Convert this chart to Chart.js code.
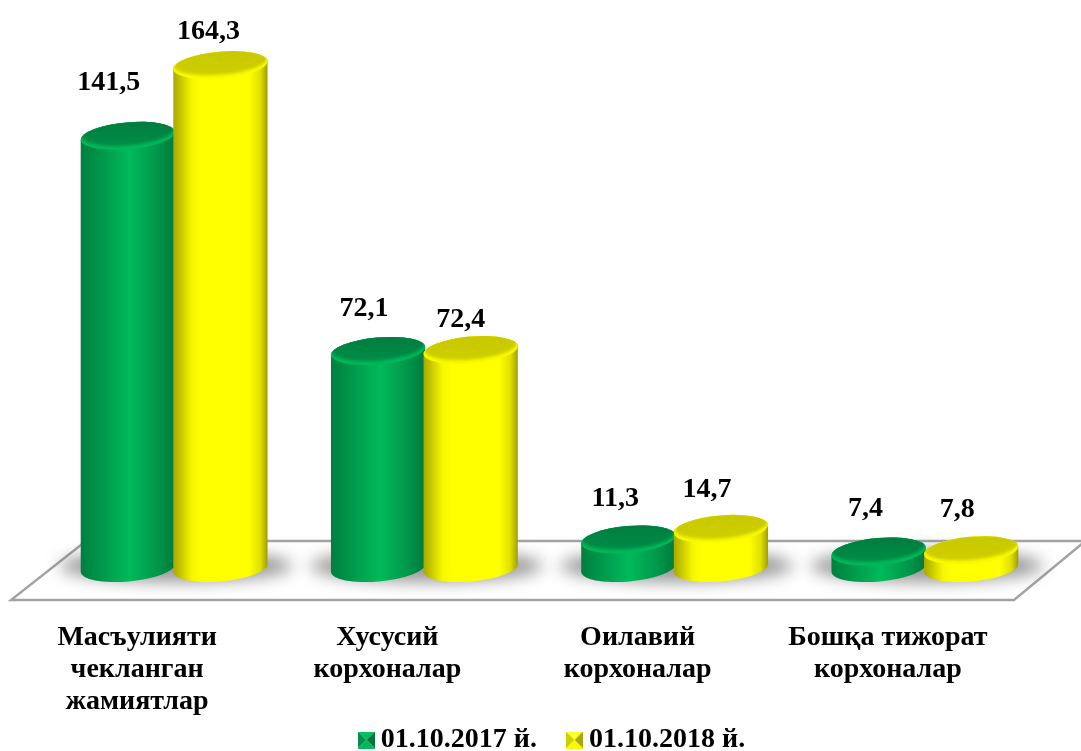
<!DOCTYPE html>
<html>
<head>
<meta charset="utf-8">
<title>Корхоналар</title>
<script src="https://cdn.jsdelivr.net/npm/chart.js@4"></script>
<style>
	html, body { margin: 0; padding: 0; background: #fff; overflow: hidden; }
	canvas { display: block; }
</style>
</head>
<body>
<canvas id="chart" width="1081" height="751"></canvas>
<script>
const categories = [
	["Масъулияти", "чекланган", "жамиятлар"],
	["Хусусий", "корхоналар"],
	["Оилавий", "корхоналар"],
	["Бошқа тижорат", "корхоналар"],
];
const seriesNames = ["01.10.2017 й.", "01.10.2018 й."];
const values2017 = [141.5, 72.1, 11.3, 7.4];
const values2018 = [164.3, 72.4, 14.7, 7.8];

// hand placed value labels, same as in the original [dx, dy] from the top of the bar
const labelShift = [
	[[-19, -53], [-14, -42], [-13, -41], [-13, -43]],
	[[-12, -33], [-10, -30], [-14, -39], [-14, -41]],
];

const fontFamily = "'Liberation Serif', serif";
const tilt = -5 * Math.PI / 180;
const capHeight = 13.5;

const looks = [
	{
		stops: [[0, "#007f40"], [0.2, "#00964a"], [0.52, "#00ba5b"], [0.8, "#00984b"], [1, "#007a3d"]],
		cap: "#008f47", capDark: "#007d3f", rim: "#00b85a", light: "#00c060", dark: "#00773c",
	},
	{
		stops: [[0, "#a8a800"], [0.2, "#f6f600"], [0.3, "#ffff00"], [0.8, "#ffff00"], [0.92, "#e0e000"], [1, "#9c9c00"]],
		cap: "#cfcf00", capDark: "#c8c800", rim: "#fafa00", light: "#ffff30", dark: "#a8a800",
	},
];

// small bevelled square for the legend
function legendIcon(look) {
	const c = document.createElement("canvas");
	c.width = 17;
	c.height = 17;
	const g = c.getContext("2d");
	const part = (color, pts) => {
		g.fillStyle = color;
		g.beginPath();
		pts.forEach((p) => g.lineTo(p[0], p[1]));
		g.closePath();
		g.fill();
	};
	part(look.light, [[0, 0], [17, 0], [8.5, 8.5]]);
	part(look.dark, [[17, 0], [17, 17], [8.5, 8.5]]);
	part(look.cap, [[0, 0], [0, 17], [8.5, 8.5]]);
	part(look.rim, [[0, 17], [17, 17], [8.5, 8.5]]);
	return c;
}

function drawCylinder(ctx, bar, base, look) {
	const rx = bar.width / 2 + 1;
	const bottom = base - 6.5;
	const grad = ctx.createLinearGradient(bar.x - rx, 0, bar.x + rx, 0);
	look.stops.forEach((s) => grad.addColorStop(s[0], s[1]));

	ctx.fillStyle = grad;
	ctx.beginPath();
	ctx.ellipse(bar.x, bottom, rx, capHeight, tilt, 0, Math.PI);
	ctx.ellipse(bar.x, bar.y, rx, capHeight, tilt, Math.PI, Math.PI * 2);
	ctx.closePath();
	ctx.fill();

	// top face with a soft lighter rim on the front edge
	const face = ctx.createLinearGradient(0, bar.y - capHeight, 0, bar.y + capHeight);
	face.addColorStop(0, look.capDark);
	face.addColorStop(1, look.cap);
	ctx.fillStyle = look.rim;
	ctx.beginPath();
	ctx.ellipse(bar.x, bar.y, rx, capHeight, tilt, 0, Math.PI * 2);
	ctx.fill();

	ctx.save();
	ctx.beginPath();
	ctx.ellipse(bar.x, bar.y, rx, capHeight, tilt, 0, Math.PI * 2);
	ctx.clip();
	ctx.filter = "blur(1.5px)";
	ctx.fillStyle = face;
	ctx.beginPath();
	ctx.ellipse(bar.x, bar.y - 3, rx - 1, capHeight - 1, tilt, 0, Math.PI * 2);
	ctx.fill();
	ctx.restore();
}

const cylinderPlugin = {
	id: "cylinders",
	afterLayout(chart) {
		// legend sits right under the labels, closer than its item padding allows
		const legend = chart.legend;
		const height = legend.bottom - legend.top;
		legend.left += 6;
		legend.right += 6;
		legend.top = 689;
		legend.bottom = 689 + height;
	},
	beforeDatasetsDraw(chart) {
		const ctx = chart.ctx;
		const base = chart.scales.y.getPixelForValue(0);
		ctx.save();
		// floor
		ctx.strokeStyle = "#a3a3a3";
		ctx.lineWidth = 2.4;
		ctx.beginPath();
		ctx.moveTo(1083, base - 33.5);
		ctx.lineTo(86, base - 33.5);
		ctx.lineTo(11, base + 25.5);
		ctx.lineTo(1014, base + 25.5);
		ctx.lineTo(1083, base - 31.5);
		ctx.stroke();

		// soft shadow behind the bars
		ctx.filter = "blur(8px)";
		ctx.fillStyle = "rgba(90, 90, 90, 0.62)";
		chart.getDatasetMeta(1).data.forEach((bar, i) => {
			const left = chart.getDatasetMeta(0).data[i];
			ctx.beginPath();
			ctx.ellipse((left.x + bar.x) / 2 + 2, base - 8.5, left.width + 24, 16, 0, 0, Math.PI * 2);
			ctx.fill();
		});
		ctx.restore();
	},
	afterDatasetsDraw(chart) {
		const ctx = chart.ctx;
		const base = chart.scales.y.getPixelForValue(0);
		ctx.save();
		chart.data.datasets.forEach((ds, d) => {
			chart.getDatasetMeta(d).data.forEach((bar) => {
				drawCylinder(ctx, bar, base, looks[d]);
			});
		});
		ctx.fillStyle = "#000";
		ctx.font = "bold 28px " + fontFamily;
		ctx.textAlign = "center";
		ctx.textBaseline = "middle";
		chart.data.datasets.forEach((ds, d) => {
			chart.getDatasetMeta(d).data.forEach((bar, i) => {
				const text = String(ds.data[i]).replace(".", ",");
				ctx.fillText(text, bar.x + labelShift[d][i][0], bar.y + labelShift[d][i][1]);
			});
		});
		ctx.restore();
	},
};

new Chart(document.getElementById("chart").getContext("2d"), {
	type: "bar",
	data: {
		labels: categories,
		datasets: [
			{ label: seriesNames[0], data: values2017, backgroundColor: "transparent", borderWidth: 0 },
			{ label: seriesNames[1], data: values2018, backgroundColor: "transparent", borderWidth: 0 },
		],
	},
	options: {
		responsive: false,
		animation: false,
		datasets: { bar: { categoryPercentage: 0.74, barPercentage: 1 } },
		layout: { padding: { left: 49, right: 31, top: 16.5, bottom: -48.5 } },
		scales: {
			x: {
				grid: { display: false },
				border: { display: false },
				afterFit(scale) {
					scale.height = 150;
				},
				ticks: {
					color: "#000",
					font: { family: fontFamily, weight: "bold", size: 28, lineHeight: 1.143 },
					padding: 39.5,
					labelOffset: -37,
					maxRotation: 0,
					autoSkip: false,
				},
			},
			y: { display: false, min: 0, max: 180 },
		},
		plugins: {
			tooltip: { enabled: false },
			legend: {
				position: "bottom",
				onClick: null,
				labels: {
					color: "#000",
					font: { family: fontFamily, weight: "bold", size: 28 },
					usePointStyle: true,
					boxWidth: 1,
					padding: 37,
					generateLabels: (chart) => seriesNames.map((name, i) => ({
						text: name,
						datasetIndex: i,
						fontColor: "#000",
						lineWidth: 0,
						pointStyle: legendIcon(looks[i]),
					})),
				},
			},
		},
	},
	plugins: [cylinderPlugin],
});
</script>
</body>
</html>
